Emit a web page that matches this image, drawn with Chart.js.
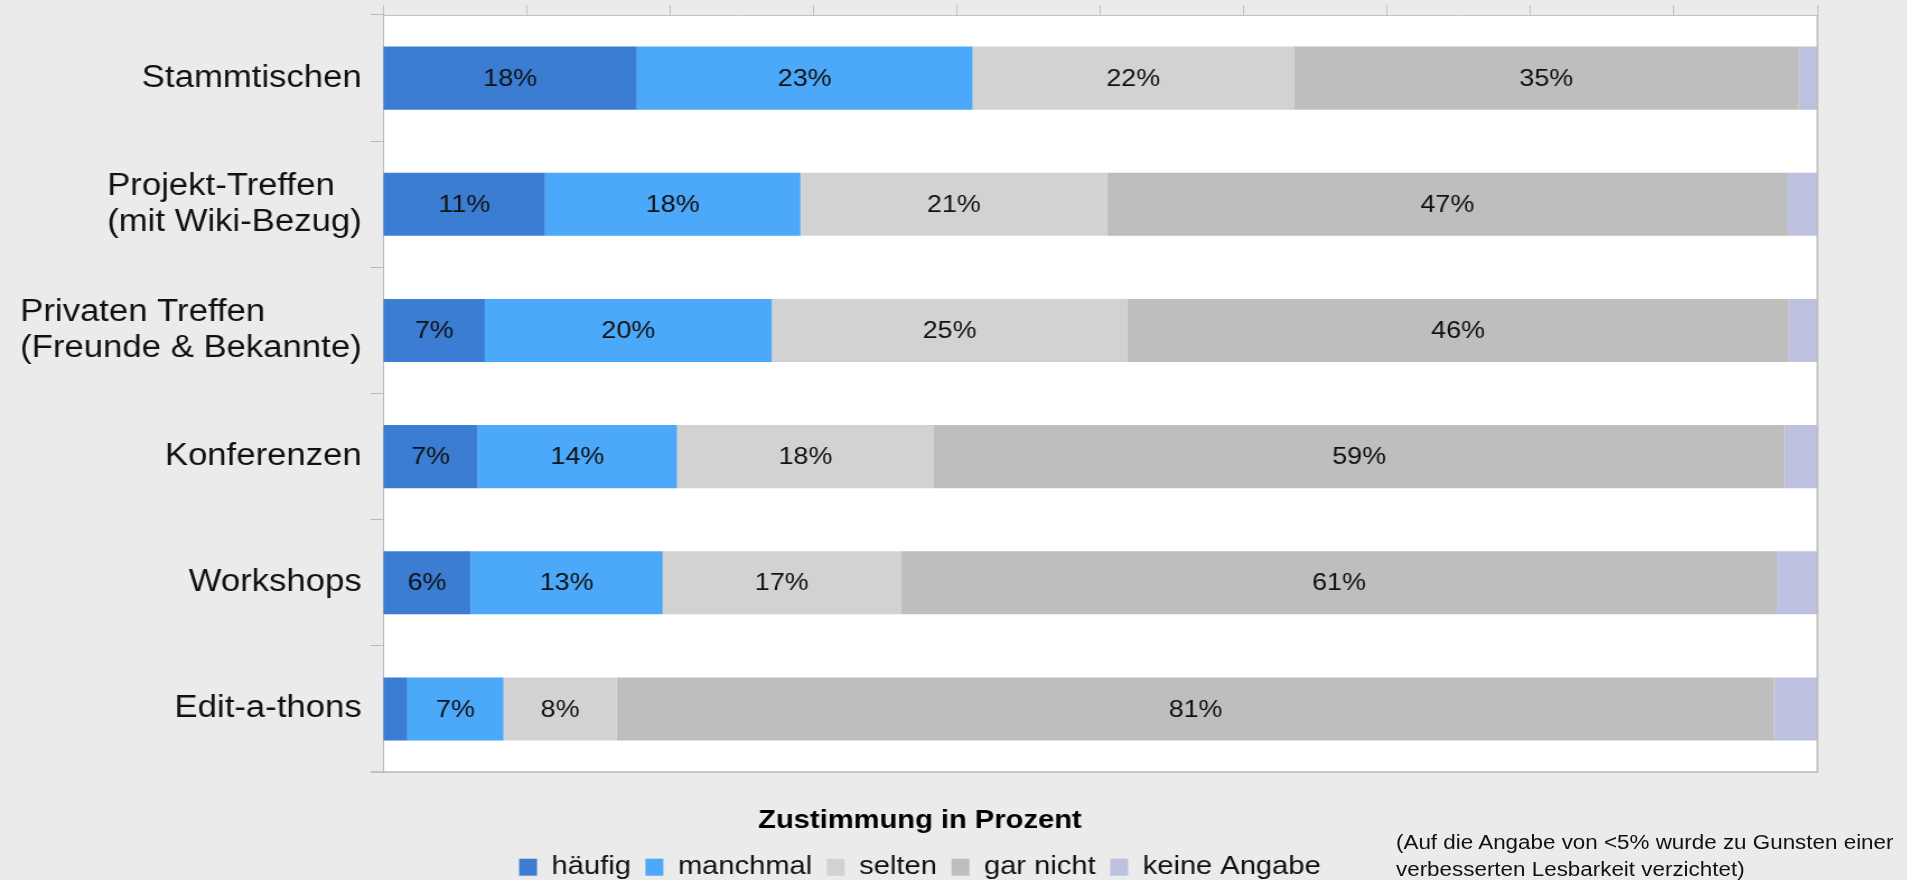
<!DOCTYPE html>
<html lang="de">
<head>
<meta charset="utf-8">
<title>Zustimmung in Prozent</title>
<script src="https://cdn.jsdelivr.net/npm/chart.js@4/dist/chart.umd.min.js"></script>
<style>
  html, body { margin: 0; padding: 0; background: #ebebeb; overflow: hidden; }
  #wrap { position: relative; width: 1907px; height: 880px; }
  #chart { width: 1907px; height: 880px; }
  /* the picture is stretched sideways, so the note is too */
  #note {
    position: absolute; left: 1396px; top: 829px;
    font: 20px/27px "Liberation Sans", Arial, sans-serif; color: #111;
    transform: scaleX(1.12); transform-origin: left top; white-space: nowrap;
  }
</style>
</head>
<body>
<div id="wrap">
  <canvas id="chart" width="1703" height="880" style="width:1907px;height:880px"></canvas>
  <div id="note">(Auf die Angabe von &lt;5% wurde zu Gunsten einer<br>verbesserten Lesbarkeit verzichtet)</div>
</div>
<script>
// Kategorien (mehrzeilige Beschriftungen als Arrays)
const kategorien = [
    ['Stammtischen'],
    ['Projekt-Treffen', '(mit Wiki-Bezug)'],
    ['Privaten Treffen', '(Freunde & Bekannte)'],
    ['Konferenzen'],
    ['Workshops'],
    ['Edit-a-thons']
];

// Werte in Prozent
const haeufig     = [17.7, 11.3,  7.1,  6.6,  6.1,  1.7];
const manchmal    = [23.4, 17.8, 20.0, 13.9, 13.4,  6.7];
const selten      = [22.4, 21.4, 24.8, 17.9, 16.6,  7.9];
const garNicht    = [35.2, 47.4, 46.1, 59.3, 61.1, 80.7];
const keineAngabe = [ 1.3,  2.1,  2.0,  2.3,  2.8,  3.0];

const serien = ['häufig', 'manchmal', 'selten', 'gar nicht', 'keine Angabe'];
const farben = ['#3a7dd3', '#4ca8f9', '#d2d2d2', '#bebebe', '#bec0e0'];

const FONT = '"Liberation Sans", Arial, sans-serif';
Chart.defaults.font.family = FONT;
Chart.defaults.color = '#111';

// weisser Plotbereich mit Rahmen rechts und unten
const plotBg = {
    id: 'plotBg',
    beforeDraw(chart) {
        const { ctx, chartArea: a } = chart;
        ctx.save();
        ctx.fillStyle = '#ffffff';
        ctx.fillRect(a.left, a.top, a.right - a.left, a.bottom - a.top);
        ctx.restore();
    },
    afterDraw(chart) {
        const { ctx, chartArea: a } = chart;
        ctx.save();
        ctx.strokeStyle = '#b9b9b9';
        ctx.lineWidth = 1.5;
        ctx.beginPath();
        ctx.moveTo(a.right, a.top);
        ctx.lineTo(a.right, a.bottom);
        ctx.lineTo(a.left - 11, a.bottom);
        ctx.stroke();
        ctx.restore();
    }
};

// Prozentwerte in die Balken schreiben (<5% weglassen)
const werteLabels = {
    id: 'werteLabels',
    afterDatasetsDraw(chart) {
        const ctx = chart.ctx;
        ctx.save();
        ctx.font = '24px ' + FONT;
        ctx.fillStyle = '#111';
        ctx.textAlign = 'center';
        ctx.textBaseline = 'middle';
        chart.data.datasets.forEach((ds, i) => {
            const meta = chart.getDatasetMeta(i);
            meta.data.forEach((bar, j) => {
                const v = ds.data[j];
                if (v < 5) return;
                ctx.fillText(Math.round(v) + '%', (bar.x + bar.base) / 2, bar.y + 1);
            });
        });
        ctx.restore();
    }
};

// Kategorienamen: Block rechtsbündig, Zeilen linksbündig
const kategorieLabels = {
    id: 'kategorieLabels',
    afterDraw(chart) {
        const ctx = chart.ctx;
        const yScale = chart.scales.y;
        const rechts = yScale.right - 19;
        const zeile = 36;
        ctx.save();
        ctx.font = '31px ' + FONT;
        ctx.fillStyle = '#111';
        ctx.textAlign = 'left';
        ctx.textBaseline = 'middle';
        kategorien.forEach((zeilen, i) => {
            const y = yScale.getPixelForValue(i);
            const breite = Math.max(...zeilen.map(z => ctx.measureText(z).width));
            zeilen.forEach((z, k) => {
                ctx.fillText(z, rechts - breite, y + (k - (zeilen.length - 1) / 2) * zeile);
            });
        });
        ctx.restore();
    }
};

const werte = [haeufig, manchmal, selten, garNicht, keineAngabe];

new Chart(document.getElementById('chart'), {
    type: 'bar',
    data: {
        labels: kategorien,
        datasets: serien.map((name, i) => ({
            label: name,
            data: werte[i],
            backgroundColor: farben[i],
            borderWidth: 0,
            barPercentage: 0.5,
            categoryPercentage: 1.0
        }))
    },
    options: {
        indexAxis: 'y',
        responsive: false,
        devicePixelRatio: 1,
        animation: false,
        events: [],
        layout: { padding: { left: 20, right: 80, top: 5, bottom: 0 } },
        scales: {
            x: {
                position: 'top',
                stacked: true,
                min: 0,
                max: 100,
                ticks: { display: false, stepSize: 10 },
                grid: { drawOnChartArea: false, tickLength: 10, color: '#c2c2c2' },
                border: { color: '#c2c2c2' }
            },
            y: {
                stacked: true,
                ticks: { display: false },
                grid: { drawOnChartArea: false, tickLength: 11, color: '#b9b9b9', offset: true },
                border: { color: '#b9b9b9' },
                afterFit(scale) { scale.width = 322; }
            }
        },
        plugins: {
            tooltip: { enabled: false },
            legend: {
                position: 'bottom',
                maxHeight: 108,
                title: {
                    display: true,
                    text: 'Zustimmung in Prozent',
                    color: '#000',
                    font: { size: 26, weight: 'bold' },
                    padding: { top: 36, bottom: 2 }
                },
                labels: {
                    color: '#111',
                    font: { size: 26 },
                    boxWidth: 16,
                    boxHeight: 17,
                    padding: 13
                }
            }
        }
    },
    plugins: [plotBg, werteLabels, kategorieLabels]
});
</script>
</body>
</html>
